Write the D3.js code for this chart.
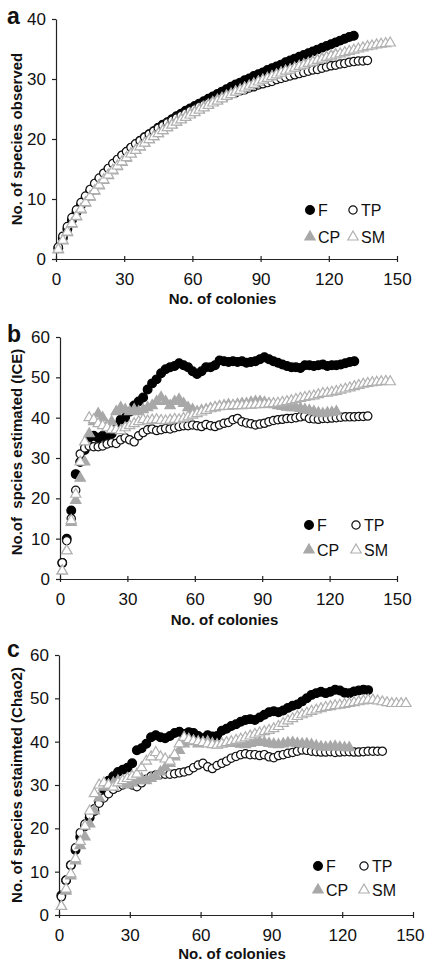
<!DOCTYPE html>
<html>
<head>
<meta charset="utf-8">
<script src="https://cdn.jsdelivr.net/npm/d3@7"></script>
<style>
  body { margin: 0; background: #fff; }
  text { font-family: "Liberation Sans", Arial, sans-serif; fill: #111; }
</style>
</head>
<body>
<div id="chart"></div>
<script>
// Species accumulation values, one point every 2 colonies starting at colony 1
var firstColony = 1;
var colonyStep = 2;

var seriesNames = ["F", "TP", "CP", "SM"];
var xTicks = [0, 30, 60, 90, 120, 150];
var yTicksA = [0, 10, 20, 30, 40];
var yTicksB = [0, 10, 20, 30, 40, 50, 60];
var yTicksC = [0, 10, 20, 30, 40, 50, 60];

// (a) observed
var aF = [1.8,3.5,5,6.5,7.8,9,10.2,11.3,12.3,13.2,
  14.1,14.9,15.7,16.4,17.2,17.8,18.5,19.1,19.7,20.3,
  20.8,21.3,21.9,22.4,22.8,23.3,23.8,24.2,24.7,25.1,
  25.5,25.9,26.3,26.7,27.1,27.5,27.9,28.3,28.7,29.1,
  29.4,29.8,30.1,30.5,30.8,31.1,31.5,31.8,32.1,32.4,
  32.8,33.1,33.4,33.7,34,34.3,34.6,34.9,35.2,35.5,
  35.8,36.1,36.4,36.7,37,37.2];
var aTP = [2,3.8,5.4,6.9,8.2,9.4,10.5,11.6,12.6,13.5,
  14.3,15.1,15.9,16.6,17.3,17.9,18.6,19.2,19.7,20.3,
  20.8,21.3,21.8,22.2,22.7,23.1,23.5,23.9,24.3,24.7,
  25,25.4,25.7,26,26.3,26.6,26.9,27.2,27.5,27.7,
  28,28.2,28.5,28.7,29,29.2,29.4,29.6,29.9,30.1,
  30.3,30.5,30.7,30.9,31.1,31.3,31.5,31.6,31.8,32,
  32.2,32.3,32.5,32.6,32.8,32.9,33,33,33.1];
var aCP = [1.5,3,4.4,5.8,7,8.2,9.3,10.3,11.3,12.2,
  13.1,13.9,14.7,15.4,16.1,16.8,17.5,18.1,18.7,19.3,
  19.9,20.4,20.9,21.4,21.9,22.4,22.8,23.3,23.7,24.1,
  24.5,24.9,25.3,25.7,26.1,26.5,26.8,27.2,27.5,27.9,
  28.2,28.5,28.8,29.2,29.5,29.8,30.1,30.4,30.7,31,
  31.3,31.5,31.8,32.1,32.4,32.6,32.9,33.1,33.4,33.6,
  33.9,34.1];
var aSM = [1.6,3.1,4.5,5.9,7.1,8.3,9.4,10.4,11.4,12.3,
  13.2,14,14.8,15.5,16.2,16.9,17.5,18.1,18.7,19.3,
  19.9,20.4,20.9,21.4,21.9,22.3,22.8,23.2,23.6,24,
  24.4,24.8,25.2,25.6,26,26.3,26.7,27.1,27.4,27.8,
  28.1,28.5,28.8,29.1,29.5,29.8,30.1,30.4,30.7,31,
  31.3,31.5,31.8,32.1,32.3,32.6,32.8,33.1,33.3,33.6,
  33.8,34,34.2,34.4,34.6,34.8,35,35.2,35.4,35.5,
  35.7,35.8,35.9,36];

// (b) ICE
var bF = [4,10,17,26,29,32,35,35.5,35,35.5,
  35,36,38,39.5,40,41.5,43,44,45,47,
  48.5,49.5,51,52,52.5,52.8,53.5,53,52.5,51.5,
  50.8,51.5,52.5,52.5,53,54.2,54,53.8,54,53.8,
  54,53.6,53.8,54,54.5,55,54.5,54,53.6,53.2,
  52.8,52.5,52.5,52.3,53,53,52.8,53,53.2,52.8,
  53,53,53.2,53.5,53.8,54];
var bTP = [4,9.5,15,22,31,32.5,33,32.8,32.8,33,
  33.5,33.8,33.6,34.5,35,34.5,34,35.5,36.3,37,
  37.2,36.8,37,37.3,37.2,37.5,37.8,38,38,38.2,
  38,37.8,38.3,38,37.8,38.2,38.6,38.8,39.5,39.8,
  39,38.7,38.5,38.2,38.4,38.6,39,39.3,39.5,39.6,
  39.8,39.8,40,40.2,40.4,39.8,39.7,39.6,39.8,39.8,
  39.9,40,40.1,40.2,40.2,40.2,40.3,40.3,40.4];
var bCP = [2,7,14,19.5,25,29,36,39,41,40,
  38,39,41.5,42.5,42,41.5,42,41.5,42,42.5,
  43,44,45,44,43,44,44.5,43.5,42.5,42,
  41.5,41.8,42,42.3,42.5,42.8,43,43.2,43,43.3,
  43.5,43.5,43.8,44,44,43.8,43.5,43.2,43,42.8,
  42.6,42.5,42.5,42.3,42,41.8,41.5,41.2,41,41.2,
  41.3,41.5];
var bSM = [2,7,14.5,21,29,34,40,39.5,38.5,38,
  37.5,37,37,36.8,37.5,38,38.5,39,39.5,39.2,
  39.4,39.5,39.3,39.2,39.4,39.6,39.5,39.8,40.2,40.6,
  41,41.4,41.8,42.2,42.5,42.7,42.8,42.8,43,43,
  43,43.1,43.1,43.2,43.2,43.3,43.4,43.5,43.6,43.8,
  44,44.2,44.5,44.8,45,45.2,45.4,45.7,46,46.1,
  46.3,46.5,46.8,47.1,47.4,47.7,48,48.3,48.5,48.7,
  48.8,48.9,49,48.9];

// (c) Chao2
var cF = [4.5,8,11.5,15,18,20.5,22.5,24,26,29,
  31,32,33,33.5,34,35,38,38.5,39.5,41,
  41.5,41,40.8,41.3,42,42.3,41.8,42.2,42,41.3,
  40.8,41.5,41.2,41.3,42.5,43,43.6,44,44.6,45,
  45.2,45,45.6,46.2,46.8,47,46.8,47.2,47.8,48.3,
  48.6,49.3,50,50.8,51.2,51.5,51.2,51.5,52,51.8,
  51.3,51.2,51.6,51.8,52,51.9];
var cTP = [4.2,8,11.5,15.5,19,21,23,24.5,25.8,27,
  28,29,29.5,30,30.5,30,29.6,30.5,31.3,32,
  32.3,32.5,32.5,32.5,32.6,32.8,33,33.3,34,34.6,
  35,34.2,33.8,34.5,35,35.5,36.2,36.6,37,37.2,
  37,37,36.8,37,36.5,36.3,36.8,37,37.3,37.5,
  37.8,38.1,38,37.8,37.7,37.6,37.6,37.7,37.5,37.6,
  37.7,37.7,37.6,37.6,37.7,37.8,37.8,37.8,37.8];
var cCP = [2,5.5,9,12.5,16,18,21,24,27,29.5,
  30,30.5,31,30.5,30,30.5,31,31.5,31,31.5,
  32,33,34,35,36.5,38,39.5,40.5,40,39.5,
  39.8,40,39.6,39.3,39.5,39.6,39.8,39.6,39.4,39.3,
  39.6,39.8,40,39.8,39.6,39.4,39.3,39.5,39.7,39.8,
  39.6,39.5,39.5,39.3,39,38.8,38.7,38.8,38.9,38.7,
  38.6,38.6];
var cSM = [2,6,9.5,13,17,20.5,24,28,30,30.5,
  30,29.5,30.5,31,31.5,32,32.5,34,35.5,36.5,
  37.5,36.5,36,35.5,37,39.5,41,40.5,40.2,40,
  39.8,39.5,39.3,39.2,39.5,39.8,40,40.3,40.6,40.9,
  41.3,41.7,42,42.3,42.6,43,43.5,44.2,44.8,45.3,
  45.8,46.2,46.6,47,47.3,47.6,47.9,48.1,48.3,48.4,
  48.6,48.8,49,49.2,49.4,49.6,49.6,49.4,49.2,49,
  48.8,48.8,48.8,48.8];

// marker styles per series
var styles = {
  F:  { shape: d3.symbolCircle,   size: 60, fill: "#000", stroke: "#000" },
  TP: { shape: d3.symbolCircle,   size: 54, fill: "#fff", stroke: "#111" },
  CP: { shape: d3.symbolTriangle, size: 46, fill: "#a8a8a8", stroke: "#a8a8a8" },
  SM: { shape: d3.symbolTriangle, size: 46, fill: "#fff", stroke: "#b0b0b0" }
};

var svg = d3.select("#chart").append("svg")
  .attr("width", 426)
  .attr("height", 964);

function drawPanel(p) {
  var x = d3.scaleLinear().domain([0, 150]).range([p.left, p.right]);
  var y = d3.scaleLinear().domain([0, p.yMax]).range([p.bottom, p.top]);
  var g = svg.append("g");

  // axes
  var xAxis = g.append("g")
    .attr("transform", "translate(0," + p.bottom + ")")
    .call(d3.axisBottom(x).tickValues(xTicks).tickSize(4).tickSizeOuter(0).tickPadding(10));
  xAxis.selectAll(".tick line").attr("y1", -3).attr("y2", 3);
  // keep the last label inside the page
  xAxis.selectAll(".tick text").filter(function (d) { return x(d) > 405; })
    .attr("text-anchor", "end").attr("dx", 11);
  g.append("g")
    .attr("transform", "translate(" + p.left + ",0)")
    .call(d3.axisLeft(y).tickValues(p.yTicks).tickSize(4).tickSizeOuter(0).tickPadding(6));
  g.selectAll(".domain, .tick line").attr("stroke", "#222").attr("stroke-width", 1.2);
  g.selectAll(".tick text").style("font-size", "17px").attr("fill", "#111");

  // titles
  g.append("text")
    .attr("x", (p.left + p.right) / 2 - 4)
    .attr("y", p.xTitleY)
    .attr("text-anchor", "middle")
    .style("font-size", "15px").style("font-weight", "bold")
    .text("No. of colonies");
  g.append("text")
    .attr("transform", "translate(22," + p.yTitleMid + ") rotate(-90)")
    .attr("text-anchor", "middle")
    .style("font-size", "15px").style("font-weight", "bold")
    .style("white-space", "pre")
    .text(p.yTitle);
  g.append("text")
    .attr("x", 7).attr("y", p.letterY)
    .style("font-size", "23px").style("font-weight", "bold")
    .text(p.letter);

  // series
  seriesNames.forEach(function (name) {
    var st = styles[name];
    var sym = d3.symbol().type(st.shape).size(st.size);
    g.append("g").selectAll("path")
      .data(p.series[name])
      .join("path")
      .attr("transform", function (d, i) {
        return "translate(" + x(firstColony + i * colonyStep) + "," + y(d) + ")";
      })
      .attr("d", sym)
      .attr("fill", st.fill)
      .attr("stroke", st.stroke)
      .attr("stroke-width", 1.2);
  });

  // legend
  var leg = g.append("g");
  seriesNames.forEach(function (name, i) {
    var st = styles[name];
    var col = i % 2, row = Math.floor(i / 2);
    var mx = p.legX[col], my = p.legY[row];
    leg.append("path")
      .attr("transform", "translate(" + mx + "," + my + ")")
      .attr("d", d3.symbol().type(st.shape).size(st.size)())
      .attr("fill", st.fill)
      .attr("stroke", st.stroke)
      .attr("stroke-width", 1.2);
    leg.append("text")
      .attr("x", mx + 8)
      .attr("y", my)
      .attr("dy", "0.36em")
      .style("font-size", "16px")
      .text(name);
  });
}

drawPanel({
  letter: "a", letterY: 24,
  left: 56, right: 397, top: 19, bottom: 259, yMax: 40, yTicks: yTicksA,
  xTitleY: 304, yTitleMid: 139, yTitle: "No. of species observed",
  legX: [310, 353], legY: [210, 237],
  series: { F: aF, TP: aTP, CP: aCP, SM: aSM }
});
drawPanel({
  letter: "b", letterY: 342,
  left: 60, right: 397, top: 337, bottom: 579, yMax: 60, yTicks: yTicksB,
  xTitleY: 625, yTitleMid: 452, yTitle: "No.of  spcies estimated (ICE)",
  legX: [309, 356], legY: [525, 550],
  series: { F: bF, TP: bTP, CP: bCP, SM: bSM }
});
drawPanel({
  letter: "c", letterY: 657,
  left: 59, right: 413, top: 655, bottom: 915, yMax: 60, yTicks: yTicksC,
  xTitleY: 959, yTitleMid: 785, yTitle: "No. of species estaimted (Chao2)",
  legX: [318, 364], legY: [866, 890],
  series: { F: cF, TP: cTP, CP: cCP, SM: cSM }
});
</script>
</body>
</html>
